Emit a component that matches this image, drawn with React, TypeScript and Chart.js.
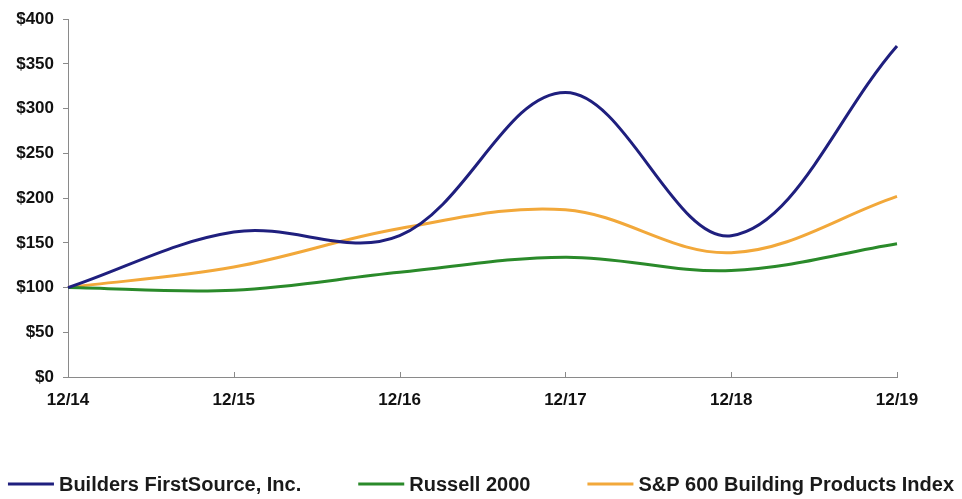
import React, { useEffect, useRef } from "react";
import { Chart, registerables } from "chart.js";

Chart.register(...registerables);

const categories = ["12/14", "12/15", "12/16", "12/17", "12/18", "12/19"];
const seriesLabels = [
  "Builders FirstSource, Inc.",
  "Russell 2000",
  "S&P 600 Building Products Index",
];
const buildersValues = [100, 162, 158, 318, 158, 370];
const russellValues = [100, 97, 117, 134, 119, 149];
const spBuildingValues = [100, 123, 166, 187, 139, 202];
const seriesColors = ["#1f1f7e", "#2a8a2a", "#f2a83a"];
const yMin = 0;
const yMax = 400;
const yStep = 50;

const FONT = "'Liberation Sans', Arial, Helvetica, sans-serif";

const innerXTicks = {
  id: "innerXTicks",
  afterDraw(chart: any) {
    const xs = chart.scales.x;
    const ctx = chart.ctx;
    const bottom = chart.chartArea.bottom;
    ctx.save();
    ctx.strokeStyle = "#8a8a8a";
    ctx.lineWidth = 1;
    xs.ticks.forEach((_t: any, i: number) => {
      const x = Math.round(xs.getPixelForTick(i)) + 0.5;
      ctx.beginPath();
      ctx.moveTo(x, bottom);
      ctx.lineTo(x, bottom - 5);
      ctx.stroke();
    });
    ctx.restore();
  },
};

const bottomLegend = {
  id: "bottomLegend",
  afterDraw(chart: any) {
    const ctx = chart.ctx;
    ctx.save();
    ctx.font = `bold 20px ${FONT}`;
    const marker = 46;
    const gap = 5;
    const itemGap = 57;
    const items = chart.data.datasets.map((ds: any) => ({
      text: ds.label,
      color: ds.borderColor,
      w: ctx.measureText(ds.label).width,
    }));
    const total =
      items.reduce((s: number, it: any) => s + marker + gap + it.w, 0) +
      itemGap * (items.length - 1);
    let x = (chart.width - total) / 2;
    const y = 484;
    items.forEach((it: any) => {
      ctx.fillStyle = it.color;
      ctx.fillRect(x, y - 1.5, marker, 3);
      ctx.fillStyle = "#1a1a1a";
      ctx.textBaseline = "middle";
      ctx.textAlign = "left";
      ctx.fillText(it.text, x + marker + gap, y + 1);
      x += marker + gap + it.w + itemGap;
    });
    ctx.restore();
  },
};

export default function App() {
  const canvasRef = useRef<HTMLCanvasElement | null>(null);

  useEffect(() => {
    document.body.style.margin = "0";
    const canvas = canvasRef.current;
    if (!canvas) return;
    const allSeries = [buildersValues, russellValues, spBuildingValues];
    const chart = new Chart(canvas, {
      type: "line",
      data: {
        labels: categories,
        datasets: allSeries.map((vals, i) => ({
          label: seriesLabels[i],
          data: vals,
          borderColor: seriesColors[i],
          backgroundColor: seriesColors[i],
          borderWidth: 3,
          pointRadius: 0,
          tension: 0.36,
          fill: false,
        })),
      },
      options: {
        animation: false,
        responsive: true,
        maintainAspectRatio: false,
        layout: { padding: { left: 0, right: 65, top: 18, bottom: 82 } },
        plugins: {
          legend: { display: false },
          tooltip: { enabled: false },
        },
        scales: {
          x: {
            type: "category",
            offset: false,
            afterFit(scale: any) {
              scale.height = 40;
            },
            grid: { display: false, drawOnChartArea: false, drawTicks: false },
            border: { display: true, color: "#8a8a8a", width: 1 },
            ticks: {
              padding: 13,
              color: "#111",
              font: { family: FONT, size: 17, weight: "bold" },
              maxRotation: 0,
              autoSkip: false,
            },
          },
          y: {
            min: yMin,
            max: yMax,
            afterFit(scale: any) {
              scale.width = 68;
            },
            grid: {
              drawOnChartArea: false,
              drawTicks: true,
              tickLength: 5,
              color: "#8a8a8a",
            },
            border: { display: true, color: "#8a8a8a", width: 1 },
            ticks: {
              stepSize: yStep,
              padding: 9,
              color: "#111",
              font: { family: FONT, size: 17, weight: "bold" },
              callback: (v: any) => `$${v}`,
            },
          },
        },
      },
      plugins: [innerXTicks, bottomLegend],
    });
    return () => chart.destroy();
  }, []);

  return (
    <div style={{ position: "relative", width: 962, height: 499 }}>
      <canvas ref={canvasRef} />
    </div>
  );
}
